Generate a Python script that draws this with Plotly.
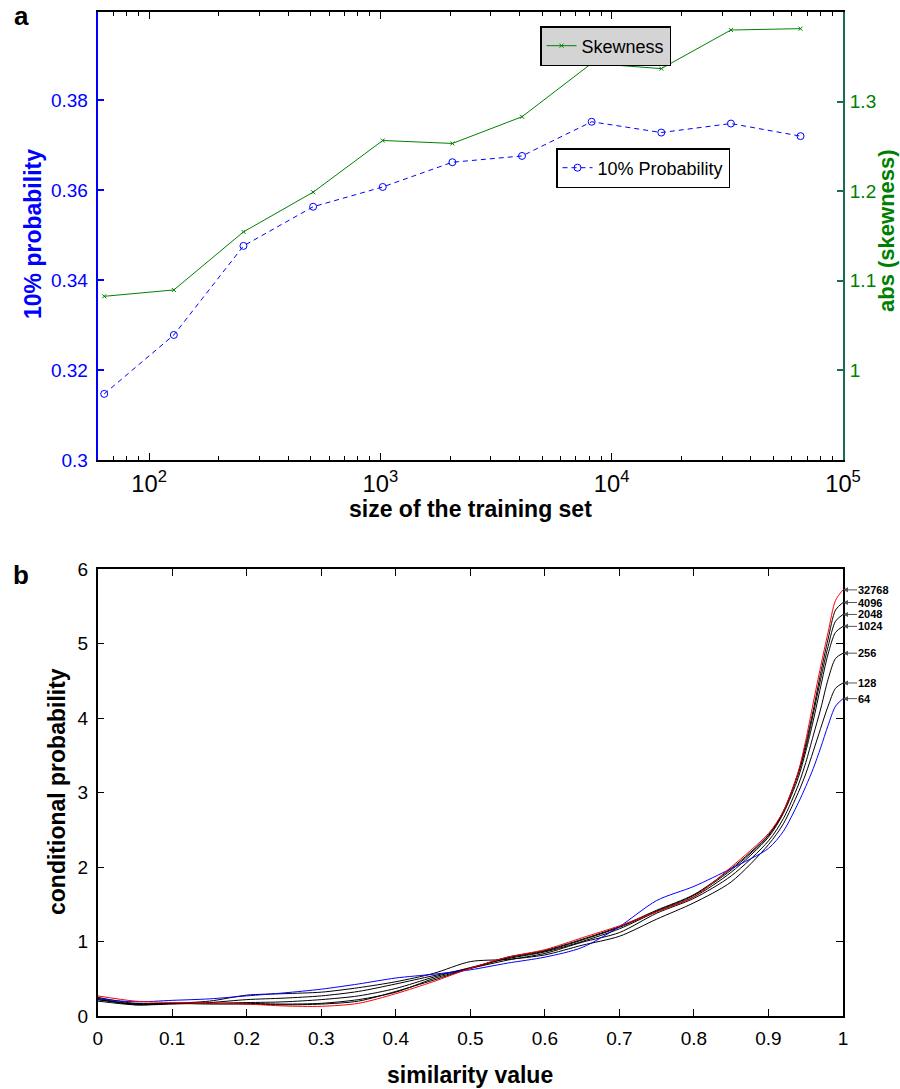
import plotly.graph_objects as go

# ---------------- Panel a data ----------------
train_sizes = [64, 128, 256, 512, 1024, 2048, 4096, 8192, 16384, 32768, 65536]
prob10 = [0.3147, 0.3278, 0.3476, 0.3563, 0.3607, 0.3662, 0.3676, 0.3752, 0.3728, 0.3748, 0.3720]
skewness = [1.0827, 1.0898, 1.1546, 1.1989, 1.2566, 1.2533, 1.2831, 1.3427, 1.3368, 1.3799, 1.3814]

# ---------------- Panel b data ----------------
sim = [0, 0.05, 0.1, 0.15, 0.2, 0.25, 0.3, 0.35, 0.4, 0.45, 0.5, 0.55, 0.6, 0.65,
       0.7, 0.75, 0.8, 0.85, 0.9, 0.92, 0.94, 0.95, 0.96, 0.97, 0.98, 0.99, 1.0]

cp_64 = [0.23, 0.19, 0.21, 0.23, 0.27, 0.31, 0.36, 0.43, 0.51, 0.56, 0.62, 0.71, 0.79, 0.92,
         1.20, 1.55, 1.74, 1.98, 2.25, 2.48, 2.86, 3.08, 3.32, 3.60, 3.90, 4.16, 4.26]
cp_128 = [0.22, 0.16, 0.17, 0.20, 0.28, 0.30, 0.32, 0.38, 0.46, 0.57, 0.73, 0.76, 0.82, 0.95,
          1.07, 1.30, 1.52, 1.80, 2.30, 2.58, 3.00, 3.25, 3.55, 3.86, 4.16, 4.40, 4.47]
cp_256 = [0.20, 0.15, 0.16, 0.18, 0.22, 0.24, 0.27, 0.33, 0.43, 0.54, 0.64, 0.75, 0.84, 0.99,
          1.12, 1.38, 1.58, 1.88, 2.35, 2.65, 3.10, 3.40, 3.76, 4.12, 4.52, 4.80, 4.87]
cp_1024 = [0.24, 0.15, 0.17, 0.17, 0.18, 0.19, 0.22, 0.27, 0.37, 0.52, 0.65, 0.77, 0.86, 1.00,
           1.17, 1.40, 1.60, 1.93, 2.40, 2.72, 3.20, 3.55, 3.96, 4.42, 4.86, 5.15, 5.23]
cp_2048 = [0.22, 0.16, 0.17, 0.17, 0.17, 0.16, 0.17, 0.22, 0.32, 0.50, 0.64, 0.78, 0.87, 1.02,
           1.19, 1.41, 1.62, 1.96, 2.42, 2.74, 3.25, 3.60, 4.05, 4.52, 4.96, 5.30, 5.39]
cp_4096 = [0.25, 0.17, 0.17, 0.16, 0.16, 0.15, 0.16, 0.20, 0.33, 0.48, 0.64, 0.79, 0.88, 1.03,
           1.20, 1.42, 1.63, 1.98, 2.43, 2.75, 3.27, 3.65, 4.10, 4.60, 5.06, 5.45, 5.55]
cp_32768 = [0.27, 0.20, 0.18, 0.17, 0.16, 0.135, 0.13, 0.17, 0.30, 0.46, 0.64, 0.79, 0.89, 1.05,
            1.21, 1.40, 1.60, 2.00, 2.45, 2.75, 3.28, 3.70, 4.20, 4.69, 5.15, 5.58, 5.72]

curve_labels = ["32768", "4096", "2048", "1024", "256", "128", "64"]
curve_ends = [cp_32768[-1], cp_4096[-1], cp_2048[-1], cp_1024[-1], cp_256[-1], cp_128[-1], cp_64[-1]]

FONT = "Liberation Sans, Arial, Helvetica, sans-serif"
GREEN = "#008000"
BLUE = "#0000ff"
W, H = 900, 1089

fig = go.Figure()

# panel a
fig.add_trace(go.Scatter(
    x=train_sizes, y=skewness, name="Skewness", mode="lines+markers",
    xaxis="x", yaxis="y2", legend="legend",
    line=dict(color=GREEN, width=1),
    marker=dict(symbol="x-thin", size=4, color=GREEN, line=dict(color=GREEN, width=1)),
))
fig.add_trace(go.Scatter(
    x=train_sizes, y=prob10, name="10% Probability", mode="lines+markers",
    xaxis="x", yaxis="y", legend="legend2",
    line=dict(color=BLUE, width=1, dash="5px,4px"),
    marker=dict(symbol="circle-open", size=7, color=BLUE, line=dict(color=BLUE, width=1)),
))

# panel b
for vals, col in [(cp_128, "black"), (cp_256, "black"), (cp_1024, "black"),
                  (cp_2048, "black"), (cp_4096, "black"), (cp_64, BLUE), (cp_32768, "red")]:
    fig.add_trace(go.Scatter(
        x=sim, y=vals, mode="lines", showlegend=False,
        xaxis="x2", yaxis="y3",
        line=dict(color=col, width=1, shape="spline", smoothing=0.8),
    ))

XDOM = [97.7 / W, 843 / W]
TOP_DOM = [1 - 460 / H, 1 - 12 / H]
BOT_DOM = [1 - 1016 / H, 1 - 569 / H]

tickfont = dict(family=FONT, size=19, color="black")
TITLE_SIZE = 23


def paper_text(text, px, py, size, color="black", angle=0):
    return dict(text=text, x=px / W, y=1 - py / H, xref="paper", yref="paper",
                showarrow=False, textangle=angle,
                font=dict(family=FONT, size=size, color=color),
                xanchor="center", yanchor="middle")


annotations = [
    paper_text("<b>a</b>", 21, 16, 26),
    paper_text("<b>b</b>", 21, 575, 26),
    paper_text("<b>10% probability</b>", 33, 234, TITLE_SIZE, BLUE, -90),
    paper_text("<b>abs (skewness)</b>", 886, 231, 22, GREEN, -90),
    paper_text("<b>size of the training set</b>", 470, 509, TITLE_SIZE),
    paper_text("<b>conditional probability</b>", 57, 792, TITLE_SIZE, "black", -90),
    paper_text("<b>similarity value</b>", 470, 1075, TITLE_SIZE),
]
for lab, v in zip(curve_labels, curve_ends):
    annotations.append(dict(
        text="<b>%s</b>" % lab, x=1, y=v, xref="x2", yref="y3",
        showarrow=True, ax=14, ay=0, axref="pixel", ayref="pixel",
        xanchor="left", yanchor="middle", borderpad=0,
        arrowhead=2, arrowsize=1, arrowwidth=1, arrowcolor="#555555",
        font=dict(family=FONT, size=11, color="black"),
    ))

fig.update_layout(
    width=W, height=H,
    template="none",
    paper_bgcolor="white", plot_bgcolor="white",
    margin=dict(l=0, r=0, t=0, b=0),
    font=dict(family=FONT, size=18, color="black"),
    xaxis=dict(
        domain=XDOM, anchor="y", type="log", range=[1.778, 5], dtick=1,
        exponentformat="power", showgrid=False, zeroline=False,
        showline=True, linecolor="black", linewidth=1.5, mirror="ticks",
        ticks="inside", ticklen=7, tickcolor="black", tickwidth=1,
        minor=dict(ticks="inside", ticklen=4, tickcolor="black", dtick="D1", showgrid=False),
        tickfont=tickfont, automargin=False, ticklabelstandoff=3,
    ),
    yaxis=dict(
        domain=TOP_DOM, anchor="x", range=[0.3, 0.3996],
        tickvals=[0.3, 0.32, 0.34, 0.36, 0.38], ticktext=["0.3", "0.32", "0.34", "0.36", "0.38"],
        showgrid=False, zeroline=False,
        showline=True, linecolor=BLUE, linewidth=2,
        ticks="inside", ticklen=6, tickcolor=BLUE, tickwidth=1.5,
        tickfont=dict(family=FONT, size=19, color=BLUE), automargin=False, ticklabelstandoff=4,
    ),
    yaxis2=dict(
        overlaying="y", side="right", anchor="x", range=[0.9, 1.4],
        tickvals=[1.0, 1.1, 1.2, 1.3], ticktext=["1", "1.1", "1.2", "1.3"],
        showgrid=False, zeroline=False,
        showline=True, linecolor="#1d6a55", linewidth=2,
        ticks="inside", ticklen=6, tickcolor="#1d6a55", tickwidth=1.5,
        tickfont=dict(family=FONT, size=19, color=GREEN), automargin=False, ticklabelstandoff=1,
    ),
    xaxis2=dict(
        domain=XDOM, anchor="y3", range=[0, 1], dtick=0.1,
        showgrid=False, zeroline=False,
        showline=True, linecolor="black", linewidth=1.5, mirror="ticks",
        ticks="inside", ticklen=7, tickcolor="black", tickwidth=1,
        tickfont=tickfont, automargin=False, ticklabelstandoff=4,
    ),
    yaxis3=dict(
        domain=BOT_DOM, anchor="x2", range=[0, 6], dtick=1,
        showgrid=False, zeroline=False,
        showline=True, linecolor="black", linewidth=1.5, mirror="ticks",
        ticks="inside", ticklen=7, tickcolor="black", tickwidth=1,
        tickfont=tickfont, automargin=False, ticklabelstandoff=4,
    ),
    legend=dict(
        x=540 / W, y=1 - 26 / H, xanchor="left", yanchor="top",
        bgcolor="#d4d4d4", bordercolor="black", borderwidth=1.5,
        font=dict(family=FONT, size=18, color="black"),
        itemwidth=30, tracegroupgap=0,
    ),
    legend2=dict(
        x=556 / W, y=1 - 148 / H, xanchor="left", yanchor="top",
        bgcolor="white", bordercolor="black", borderwidth=1.5,
        font=dict(family=FONT, size=18, color="black"),
        itemwidth=30, tracegroupgap=0,
    ),
    annotations=annotations,
)

fig.write_html(
    "out.html",
    config={"displayModeBar": False},
    post_script="document.body.style.margin='0px';document.body.style.overflow='hidden';",
)
